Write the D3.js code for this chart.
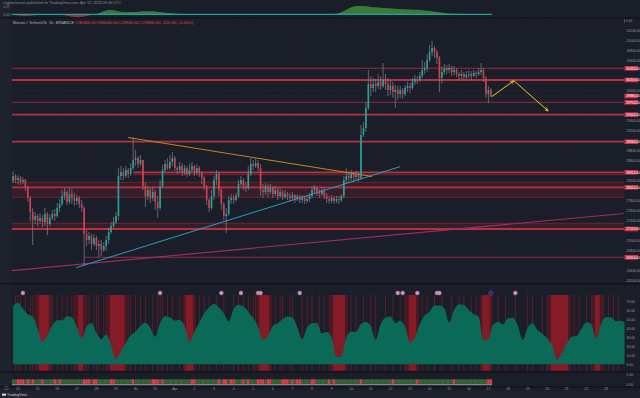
<!DOCTYPE html>
<html>
  <head>
    <meta charset="utf-8">
    <title>Bitcoin / TetherUS, 1h</title>
    <script src="https://d3js.org/d3.v7.min.js"></script>
    <style>
      body { margin: 0; background: #1a1e29; }
      text { font-family: "Liberation Sans", Arial, sans-serif; }
    </style>
  </head>
  <body>
    <svg id="chart" width="640" height="398"></svg>
    <script>
      // ---- data (3h candles from Mar 23 18:00 UTC) ----
      const firstOpen = 28180;
      const closes = [
        28280, 28200, 28240, 28160, 28200, 28040, 27840, 27560, 27400, 27480,
        27380, 27440, 27360, 27520, 27320, 27440, 27520, 27480, 27640, 27720,
        27880, 27960, 27760, 27920, 27840, 27780, 27840, 27720, 27640, 27120,
        27000, 27080, 26920, 27040, 26880, 26920, 26800, 26880, 27000, 27160,
        27280, 27360, 27480, 28280, 28360, 28280, 28400, 28320, 28440, 28600,
        28640, 28520, 28600, 28080, 27880, 28000, 27840, 27960, 27760, 27640,
        28080, 28400, 28520, 28440, 28560, 28640, 28440, 28400, 28480, 28360,
        28440, 28320, 28400, 28480, 28360, 28440, 28340, 28240, 28080, 27800,
        27640, 27880, 28200, 28320, 28000, 27720, 27480, 27520, 27800, 27840,
        27800, 27880, 28120, 28200, 28080, 28040, 28320, 28520, 28480, 28540,
        28440, 28000, 27960, 28080, 27960, 28040, 27920, 28000, 27880, 27960,
        27860, 27920, 27880, 27840, 27900, 27820, 27880, 27800, 27840, 27780,
        27820, 27880, 28000, 28040, 27960, 27920, 28000, 27880, 27820, 27780,
        27840, 27780, 27820, 27800, 27880, 28200, 28280, 28240, 28320, 28260,
        28300, 28240, 29100, 29240, 29640, 30120, 30040, 30120, 30080, 30160,
        30080, 30200, 30120, 30000, 30080, 29960, 30000, 29920, 30000, 29920,
        30040, 30080, 30040, 30160, 30220, 30200, 30280, 30400, 30440, 30600,
        30760, 30840, 30760, 30640, 30240, 30360, 30440, 30400, 30440, 30360,
        30400, 30320, 30280, 30320, 30260, 30300, 30320, 30280, 30340, 30320,
        30360, 30400, 30240, 29920, 30000, 29880
      ];
      const highs = [
        28380, 28320, 28300, 28280, 28260, 28220, 28080, 27880, 27640, 27560,
        27520, 27540, 27500, 27640, 27560, 27520, 27600, 27620, 27740, 27820,
        28000, 28040, 28000, 28040, 28020, 27940, 27900, 27880, 27800, 27680,
        27200, 27160, 27120, 27120, 27080, 27000, 27000, 26960, 27080, 27240,
        27360, 27460, 27560, 28440, 28480, 28440, 28480, 28440, 28540, 29060,
        28800, 28680, 28700, 28600, 28160, 28080, 28040, 28060, 28000, 27880,
        28200, 28500, 28600, 28640, 28700, 28760, 28680, 28480, 28560, 28540,
        28500, 28480, 28520, 28560, 28500, 28520, 28480, 28360, 28280, 28100,
        27840, 28000, 28280, 28400, 28360, 28040, 27760, 27640, 27880, 27920,
        27900, 27940, 28200, 28280, 28240, 28160, 28480, 28640, 28600, 28640,
        28600, 28520, 28120, 28140, 28120, 28120, 28080, 28080, 28040, 28040,
        28000, 28000, 27960, 27940, 27960, 27920, 27920, 27900, 27900, 27880,
        27880, 27940, 28080, 28100, 28080, 28020, 28060, 28040, 27940, 27880,
        27900, 27880, 27880, 27880, 27920, 28280, 28440, 28360, 28400, 28360,
        28380, 28360, 29300, 29360, 29760, 30400, 30280, 30240, 30220, 30320,
        30280, 30540, 30320, 30240, 30200, 30160, 30100, 30080, 30080, 30040,
        30100, 30160, 30140, 30240, 30300, 30280, 30360, 30600, 30560, 30720,
        30900, 30980, 30880, 30800, 30680, 30480, 30520, 30500, 30520, 30480,
        30480, 30440, 30360, 30400, 30360, 30380, 30400, 30380, 30400, 30380,
        30440, 30540, 30440, 30280, 30080, 30040
      ];
      const lows = [
        28140, 28140, 28120, 28100, 28120, 27980, 27760, 27360, 26900, 27320,
        27280, 27320, 27260, 27280, 27100, 27280, 27400, 27380, 27440, 27560,
        27680, 27800, 27700, 27720, 27720, 27680, 27700, 27640, 27560, 26480,
        26880, 26920, 26800, 26880, 26800, 26660, 26680, 26760, 26780, 26920,
        27120, 27240, 27320, 27400, 28200, 28200, 28240, 28240, 28280, 28400,
        28480, 28440, 28480, 28000, 27660, 27800, 27740, 27780, 27600, 27440,
        27600, 28040, 28360, 28400, 28400, 28480, 28380, 28320, 28360, 28280,
        28300, 28260, 28280, 28360, 28280, 28300, 28260, 28120, 28000, 27700,
        27560, 27600, 27800, 28100, 27880, 27600, 27400, 27140, 27480, 27720,
        27720, 27760, 27840, 28080, 28000, 27960, 28000, 28280, 28400, 28440,
        28380, 27880, 27840, 27900, 27860, 27920, 27840, 27880, 27800, 27840,
        27800, 27820, 27800, 27780, 27800, 27740, 27780, 27740, 27740, 27720,
        27740, 27760, 27840, 27920, 27880, 27840, 27880, 27820, 27740, 27720,
        27740, 27720, 27740, 27720, 27760, 27840, 28120, 28140, 28180, 28160,
        28200, 28160, 28200, 29060, 29160, 29600, 29880, 29960, 29960, 30020,
        30000, 30040, 30000, 29880, 29900, 29840, 29640, 29800, 29840, 29820,
        29880, 29960, 29940, 30000, 30100, 30120, 30160, 30240, 30320, 30360,
        30560, 30680, 30640, 30520, 29960, 30120, 30300, 30320, 30340, 30280,
        30300, 30260, 30200, 30220, 30180, 30220, 30240, 30200, 30260, 30240,
        30280, 30300, 30160, 29840, 29740, 29860
      ];

      // horizontal support / resistance levels (price, start candle)
      const levelPrices = [30434, 30200, 29754, 29506, 28966, 28354, 28306, 28154, 28054, 27854, 27334, 27220, 26654];
      const levelStart  = [-0.5, -0.5, -0.5, -0.5, -0.5, 49, 49, -0.5, -0.5, -0.5, -0.5, -0.5, 29];
      const bandTop    = [28354, 28154, 27334];
      const bandBottom = [28306, 27854, 27220];
      const bandStart  = [49, -0.5, -0.5];

      // drawn trend lines: [candle index, price]
      const magentaLine = [[-0.5, 26388], [249.3, 27530]];
      const cyanLine    = [[25.7, 26446], [157.9, 28466]];
      const orangeLine  = [[46.9, 29050], [146.5, 28270]];
      const yellowPath  = [[195.3, 29866], [204.4, 30186], [218.4, 29580]];

      // top pane indicator, one value per 6h
      const topOsc = [
        -0.005, -0.012, -0.016, -0.017, -0.012, -0.004, 0, -0.002, -0.003, -0.004,
        -0.008, -0.015, -0.025, -0.03, -0.028, -0.018, -0.006, 0.002, 0.02, 0.038,
        0.043, 0.035, 0.025, 0.022, 0.023, 0.024, 0.027, 0.03, 0.03, 0.028,
        0.022, 0.016, 0.012, 0.008, 0.005, 0.002, 0, -0.002, -0.004, -0.005,
        -0.004, -0.002, 0, 0.001, 0, -0.002, -0.004, -0.005, -0.004, -0.003,
        -0.003, -0.004, -0.003, -0.002, -0.002, -0.003, -0.004, -0.004, -0.003, -0.002,
        -0.002, -0.002, -0.001, -0.001, 0, 0.002, 0.006, 0.02, 0.045, 0.07,
        0.082, 0.083, 0.08, 0.074, 0.07, 0.066, 0.063, 0.06, 0.056, 0.053,
        0.05, 0.047, 0.045, 0.043, 0.038, 0.032, 0.025, 0.02, 0.014, 0.009,
        0.006, 0.004, 0.003, 0.002, 0.002, 0.001, 0.001, 0
      ];

      // lower pane oscillator, one value per 6h (runs past the last candle)
      const osc = [
        64.8, 68.5, 61.9, 55.2, 53, 39.3, 25, 32.6, 43, 48.9,
        48.9, 53.3, 52.2, 41.5, 28.9, 41.9, 45.9, 35.2, 27.8, 33,
        21.1, 5.6, 14.1, 24.1, 32.2, 36.3, 42.6, 46.3, 40.7, 30.7,
        45.6, 53.7, 51.9, 48.5, 49.3, 42.6, 25, 36.3, 46.3, 56.7,
        63.3, 67, 63.3, 56.7, 47.4, 61.1, 66.3, 64.1, 58.5, 51.5,
        41.9, 27, 31.5, 42.6, 45.6, 50, 53, 52.2, 41.1, 27.8,
        41.1, 45.6, 46.3, 34.4, 36.3, 30, 8, 9, 30, 36.3,
        36.3, 44.8, 47, 41.9, 27, 44.4, 51.9, 53, 45.9, 48.5,
        41.9, 24, 30, 44.4, 54.4, 58.5, 65.2, 65.2, 62.2, 46.3,
        60.4, 66.7, 65.9, 60.4, 55.6, 53, 26, 28, 44.4, 47.4,
        44.4, 51.1, 51.5, 43, 27, 40.7, 45.6, 38.1, 34, 28.9,
        20.7, 5, 12.2, 23.3, 30.7, 31.5, 39.6, 46.7, 44.4, 27.8,
        45.2, 52.2, 52.2, 47.8, 48.5, 45.6
      ];
      // red background stripes of the oscillator (candle indices)
      const strongStripes = [[11, 14], [27, 28], [40, 45], [71, 73], [101, 104], [131, 135], [162, 164], [192, 194], [220, 226], [238, 239]];
      const thinStripes = [1, 2, 3, 5, 7, 8, 9, 15, 16, 18, 20, 22, 24, 25, 30, 31, 33, 34, 35, 37, 38, 47, 48, 50, 52, 54, 57, 59, 60, 61, 63, 65, 68, 70, 76, 78, 80, 83, 86, 90, 92, 94, 96, 98, 99, 107, 109, 110, 113, 114, 118, 120, 122, 125, 127, 129, 138, 140, 143, 146, 148, 152, 155, 158, 160, 167, 169, 172, 175, 179, 182, 184, 187, 189, 195, 198, 201, 205, 210, 212, 216, 218, 229, 231, 234, 236, 241, 243, 245, 247];
      const signalMarks = [4, 60, 85, 93, 100, 101, 117, 157, 159, 165, 173, 174, 205];
      const pendingMark = [195];
      // heat strip: candles flagged red
      const heatRed = [2, 3, 4, 6, 8, 12, 17, 19, 29, 30, 31, 33, 34, 40, 41, 49, 57, 58, 59, 61, 73, 74, 84, 86, 87, 89, 90, 94, 96, 100, 101, 102, 104, 105, 110, 111, 112, 114, 116, 117, 122, 123, 129, 131, 142, 155, 165, 180, 194, 195];

      const priceTicks = [31200, 31000, 30800, 30600, 30400, 30200, 30000, 29800, 29600, 29400, 29200, 29000, 28800, 28600, 28400, 28200, 28000, 27800, 27600, 27400, 27200, 27000, 26800, 26600, 26400, 26200];
      const oscTicks = [70, 60, 50, 40, 30, 20, 10, 0];
      const dayLabels = ["24", "25", "26", "27", "28", "29", "30", "31", "Apr", "2", "3", "4", "5", "6", "7", "8", "9", "10", "11", "12", "13", "14", "15", "16", "17", "18", "19", "20", "21", "22", "23"];

      // ---- scales ----
      const svg = d3.select("#chart");
      const t0 = Date.UTC(2023, 2, 23, 18);
      const H3 = 3 * 3600e3;
      const x = d3.scaleUtc()
        .domain([new Date(t0), new Date(t0 + 250 * H3)])
        .range([13.1, 625.6]);
      const xi = (i) => x(new Date(t0 + i * H3));
      const y = d3.scaleLinear().domain([31440, 26140]).range([18, 283]);
      const oy = d3.scaleLinear().domain([0, 70]).range([364.3, 301.3]);
      const ty = d3.scaleLinear().domain([0, 0.1]).range([14.3, 4.3]);
      const dayX = dayLabels.map((d, k) => x(new Date(Date.UTC(2023, 2, 24 + k))));

      const left = 11.5, right = 624.5;

      // ---- backgrounds, separators, grid ----
      svg.append("rect").attr("width", 640).attr("height", 398).attr("fill", "#1a1e29");
      svg.append("rect").attr("width", left).attr("height", 391).attr("fill", "#1e222d");
      svg.append("rect").attr("y", 391).attr("width", 640).attr("height", 7).attr("fill", "#1f232e");

      const grid = svg.append("g").attr("stroke", "#1f2330").attr("stroke-width", 0.7);
      grid.selectAll(".vg").data(dayX).join("line")
        .attr("x1", (d) => d).attr("x2", (d) => d).attr("y1", 18).attr("y2", 386);
      grid.selectAll(".hg").data(priceTicks).join("line")
        .attr("x1", left).attr("x2", right).attr("y1", (d) => y(d)).attr("y2", (d) => y(d));

      [17.8, 283.6, 371.8, 386.8].forEach((sy) => {
        svg.append("line").attr("x1", 0).attr("x2", 640).attr("y1", sy).attr("y2", sy)
          .attr("stroke", "#10131a").attr("stroke-width", 1.2);
      });

      // ---- top pane ----
      svg.append("text").attr("x", 3).attr("y", 4.2).attr("font-size", 3.8).attr("fill", "#8a8e99")
        .text("cryptochartist published on TradingView.com, Apr 17, 2023 09:46 UTC");
      svg.append("text").attr("x", 3.5).attr("y", 8).attr("font-size", 3.2).attr("fill", "#8a8e99").text("0.07");
      svg.append("text").attr("x", 3.5).attr("y", 15.5).attr("font-size", 3.2).attr("fill", "#8a8e99").text("0.00");

      const tj = (j) => xi(2 * j);
      const posArea = d3.area().curve(d3.curveMonotoneX)
        .x((d, j) => tj(j)).y0(ty(0)).y1((d) => ty(Math.max(d, 0)));
      const negArea = d3.area().curve(d3.curveMonotoneX)
        .x((d, j) => tj(j)).y0(ty(0)).y1((d) => ty(Math.min(d, 0)));
      svg.append("path").datum(topOsc).attr("d", posArea).attr("fill", "#3d8c3e").attr("opacity", 0.85);
      svg.append("path").datum(topOsc).attr("d", negArea).attr("fill", "#b3323f").attr("opacity", 0.85);
      svg.append("line").attr("x1", left).attr("x2", xi(closes.length - 1) + 1)
        .attr("y1", ty(0)).attr("y2", ty(0)).attr("stroke", "#1ca39b").attr("stroke-width", 1.3);
      svg.append("rect").attr("x", 624).attr("y", 19.3).attr("width", 0.8).attr("height", 3.4).attr("fill", "#d2344a");
      svg.append("text").attr("x", 626).attr("y", 22.2).attr("font-size", 3.2).attr("fill", "#9598a1").text("0.04");

      // ---- main pane ----
      svg.append("clipPath").attr("id", "mainClip").append("rect")
        .attr("x", left).attr("y", 18).attr("width", right - left).attr("height", 265);
      const main = svg.append("g").attr("clip-path", "url(#mainClip)");

      const last = closes.length - 1;
      const candles = closes.map((c, i) => {
        const o = i ? closes[i - 1] : firstOpen;
        return { i, o, c, h: Math.max(highs[i], o, c), l: Math.min(lows[i], o, c) };
      });

      // bands
      main.selectAll(".band").data(bandTop).join("rect")
        .attr("x", (d, k) => xi(bandStart[k])).attr("width", (d, k) => right - xi(bandStart[k]))
        .attr("y", (d) => y(d)).attr("height", (d, k) => y(bandBottom[k]) - y(d))
        .attr("fill", "#7a1f2c").attr("opacity", 0.28);

      // level lines: bold / mid / dim
      const levelStyle = ["mid", "bold", "mid", "bold", "bold", "bold", "dim", "dim", "bold", "dim", "dim", "bold", "mid"];
      const styleMap = {
        bold: { c: "#b8303f", w: 1.8 },
        mid: { c: "#9a2b39", w: 1.1 },
        dim: { c: "#6e2430", w: 1 }
      };
      main.selectAll(".lvl").data(levelPrices).join("line")
        .attr("x1", (d, k) => xi(levelStart[k])).attr("x2", right)
        .attr("y1", (d) => y(d)).attr("y2", (d) => y(d))
        .attr("stroke", (d, k) => styleMap[levelStyle[k]].c)
        .attr("stroke-width", (d, k) => styleMap[levelStyle[k]].w);

      // current price dotted line
      main.append("line").attr("x1", left).attr("x2", right)
        .attr("y1", y(closes[last])).attr("y2", y(closes[last]))
        .attr("stroke", "#d2344a").attr("stroke-dasharray", "1,1.5").attr("opacity", 0.35);

      // trend lines
      const tl = d3.line().x((d) => xi(d[0])).y((d) => y(d[1]));
      main.append("path").attr("d", tl(magentaLine)).attr("fill", "none").attr("stroke", "#a32c62").attr("stroke-width", 1.1);
      main.append("path").attr("d", tl(cyanLine)).attr("fill", "none").attr("stroke", "#2a9cc0").attr("stroke-width", 1);
      main.append("path").attr("d", tl(orangeLine)).attr("fill", "none").attr("stroke", "#c7861f").attr("stroke-width", 1);

      // candles
      const upC = "#26a69a", downC = "#d93e4e";
      main.selectAll(".wick").data(candles).join("line")
        .attr("x1", (d) => xi(d.i)).attr("x2", (d) => xi(d.i))
        .attr("y1", (d) => y(d.h)).attr("y2", (d) => y(d.l))
        .attr("stroke", "#9196a0").attr("stroke-width", 0.6);
      main.selectAll(".body").data(candles).join("rect")
        .attr("x", (d) => xi(d.i) - 0.8).attr("width", 1.6)
        .attr("y", (d) => y(Math.max(d.o, d.c)))
        .attr("height", (d) => Math.max(0.7, Math.abs(y(d.o) - y(d.c))))
        .attr("fill", (d) => (d.c >= d.o ? upC : downC));

      // yellow projection arrows
      const defs = svg.append("defs");
      defs.append("marker").attr("id", "arr").attr("viewBox", "0 0 6 6")
        .attr("refX", 5.5).attr("refY", 3).attr("markerWidth", 4).attr("markerHeight", 4)
        .attr("orient", "auto")
        .append("path").attr("d", "M0,0.5 L5.5,3 L0,5.5").attr("fill", "none")
        .attr("stroke", "#e6d21e").attr("stroke-width", 1);
      for (let k = 0; k < yellowPath.length - 1; k++) {
        main.append("path").attr("d", tl([yellowPath[k], yellowPath[k + 1]]))
          .attr("fill", "none").attr("stroke", "#e6d21e").attr("stroke-width", 1)
          .attr("marker-end", "url(#arr)");
      }

      // legend title
      const lc = candles[last];
      const chg = lc.c - closes[last - 1];
      const title = svg.append("text").attr("x", 13).attr("y", 23.6).attr("font-size", 4.2);
      title.append("tspan").attr("fill", "#b2b5be").text("Bitcoin / TetherUS, 1h, BINANCE  ");
      title.append("tspan").attr("fill", "#e0424f")
        .text(`O${lc.o.toFixed(2)} H${lc.h.toFixed(2)} L${lc.l.toFixed(2)} C${lc.c.toFixed(2)} ${chg.toFixed(2)} (${(chg / closes[last - 1] * 100).toFixed(2)}%)`);

      // price axis
      const tagged = levelPrices.filter((d, k) => levelStyle[k] !== "dim").concat([closes[last]]);
      const tagYs = tagged.map((d) => y(d));
      const axis = svg.append("g").attr("transform", "translate(626.5,0)")
        .call(d3.axisRight(y).tickValues(priceTicks).tickSize(0).tickPadding(0).tickFormat((d) => d.toFixed(2)));
      axis.select(".domain").remove();
      axis.selectAll("text").attr("font-size", 3.4).attr("fill", "#9598a1").attr("font-family", null);
      axis.selectAll(".tick").filter((d) => y(d) > 282 || tagYs.some((t) => Math.abs(y(d) - t) < 5)).remove();

      const tags = svg.append("g");
      tagged.forEach((p) => {
        tags.append("rect").attr("x", 624.5).attr("y", y(p) - 2.3).attr("width", 13.5).attr("height", 4.6).attr("fill", "#d2344a");
        tags.append("text").attr("x", 626.2).attr("y", y(p) + 1.2).attr("font-size", 3.4).attr("fill", "#fff").text(p.toFixed(2));
      });

      // ---- oscillator pane ----
      const stripes = svg.append("g");
      strongStripes.forEach(([a, b]) => {
        stripes.append("rect").attr("x", xi(a) - 4).attr("width", xi(b) - xi(a) + 8)
          .attr("y", 295).attr("height", 75.7).attr("fill", "#6e1820").attr("opacity", 0.55);
        stripes.append("rect").attr("x", xi(a) - 1.2).attr("width", xi(b) - xi(a) + 2.4)
          .attr("y", 295).attr("height", 75.7).attr("fill", "#8c1c27").attr("opacity", 0.9);
      });
      stripes.selectAll(".thin").data(thinStripes).join("rect")
        .attr("x", (d) => xi(d) - 0.5).attr("width", 1)
        .attr("y", 295).attr("height", 75.7).attr("fill", "#6a1c26").attr("opacity", 0.85);

      svg.append("clipPath").attr("id", "oscClip").append("rect")
        .attr("x", left).attr("y", 284).attr("width", right - left).attr("height", 88);
      const oscArea = d3.area().curve(d3.curveMonotoneX)
        .x((d, j) => xi(2 * j)).y0(oy(0)).y1((d) => oy(d));
      svg.append("path").datum(osc).attr("clip-path", "url(#oscClip)")
        .attr("d", oscArea).attr("fill", "#0b6a57");

      svg.selectAll(".sig").data(signalMarks).join("circle")
        .attr("cx", (d) => xi(d)).attr("cy", 293).attr("r", 1.9)
        .attr("fill", "#8fb0f5").attr("stroke", "#ee5a6b").attr("stroke-width", 0.7);
      svg.selectAll(".pend").data(pendingMark).join("circle")
        .attr("cx", (d) => xi(d)).attr("cy", 293).attr("r", 2)
        .attr("fill", "#3a2a55").attr("stroke", "#5c3f8f").attr("stroke-width", 0.8);

      const oAxis = svg.append("g").attr("transform", "translate(626.5,0)")
        .call(d3.axisRight(oy).tickValues(oscTicks).tickSize(0).tickPadding(0).tickFormat((d) => d.toFixed(2)));
      oAxis.select(".domain").remove();
      oAxis.selectAll("text").attr("font-size", 3.4).attr("fill", "#9598a1").attr("font-family", null);

      // ---- heat strip pane ----
      const redSet = new Set(heatRed);
      svg.selectAll(".heat").data(candles).join("rect")
        .attr("x", (d) => xi(d.i) - 1.25).attr("width", 2.5)
        .attr("y", 379.3).attr("height", 4.6)
        .attr("fill", (d) => (redSet.has(d.i) ? "#e23c4c" : "#3a6535"));
      svg.append("rect").attr("x", left + 0.5).attr("width", xi(last) + 1.25 - left - 0.5)
        .attr("y", 384.1).attr("height", 1.1).attr("fill", "#8b919c");
      svg.append("text").attr("x", 626.5).attr("y", 375.5).attr("font-size", 3.4).attr("fill", "#9598a1").text("1.00");
      svg.append("text").attr("x", 626.5).attr("y", 386).attr("font-size", 3.4).attr("fill", "#9598a1").text("0.00");

      // ---- time axis ----
      svg.selectAll(".day").data(dayLabels).join("text")
        .attr("x", (d, k) => dayX[k]).attr("y", 390.2)
        .attr("text-anchor", "middle").attr("font-size", 3.4).attr("fill", "#9598a1")
        .text((d) => d);

      // ---- footer ----
      svg.append("rect").attr("x", 2).attr("y", 393.6).attr("width", 4).attr("height", 2.2).attr("fill", "#d1d4dc");
      svg.append("text").attr("x", 7).attr("y", 396.2).attr("font-size", 3.6).attr("fill", "#d1d4dc").text("TradingView");
      svg.append("rect").attr("x", 5).attr("y", 386.8).attr("width", 3).attr("height", 3)
        .attr("fill", "none").attr("stroke", "#6a6e79").attr("stroke-width", 0.5);
    </script>
  </body>
</html>
